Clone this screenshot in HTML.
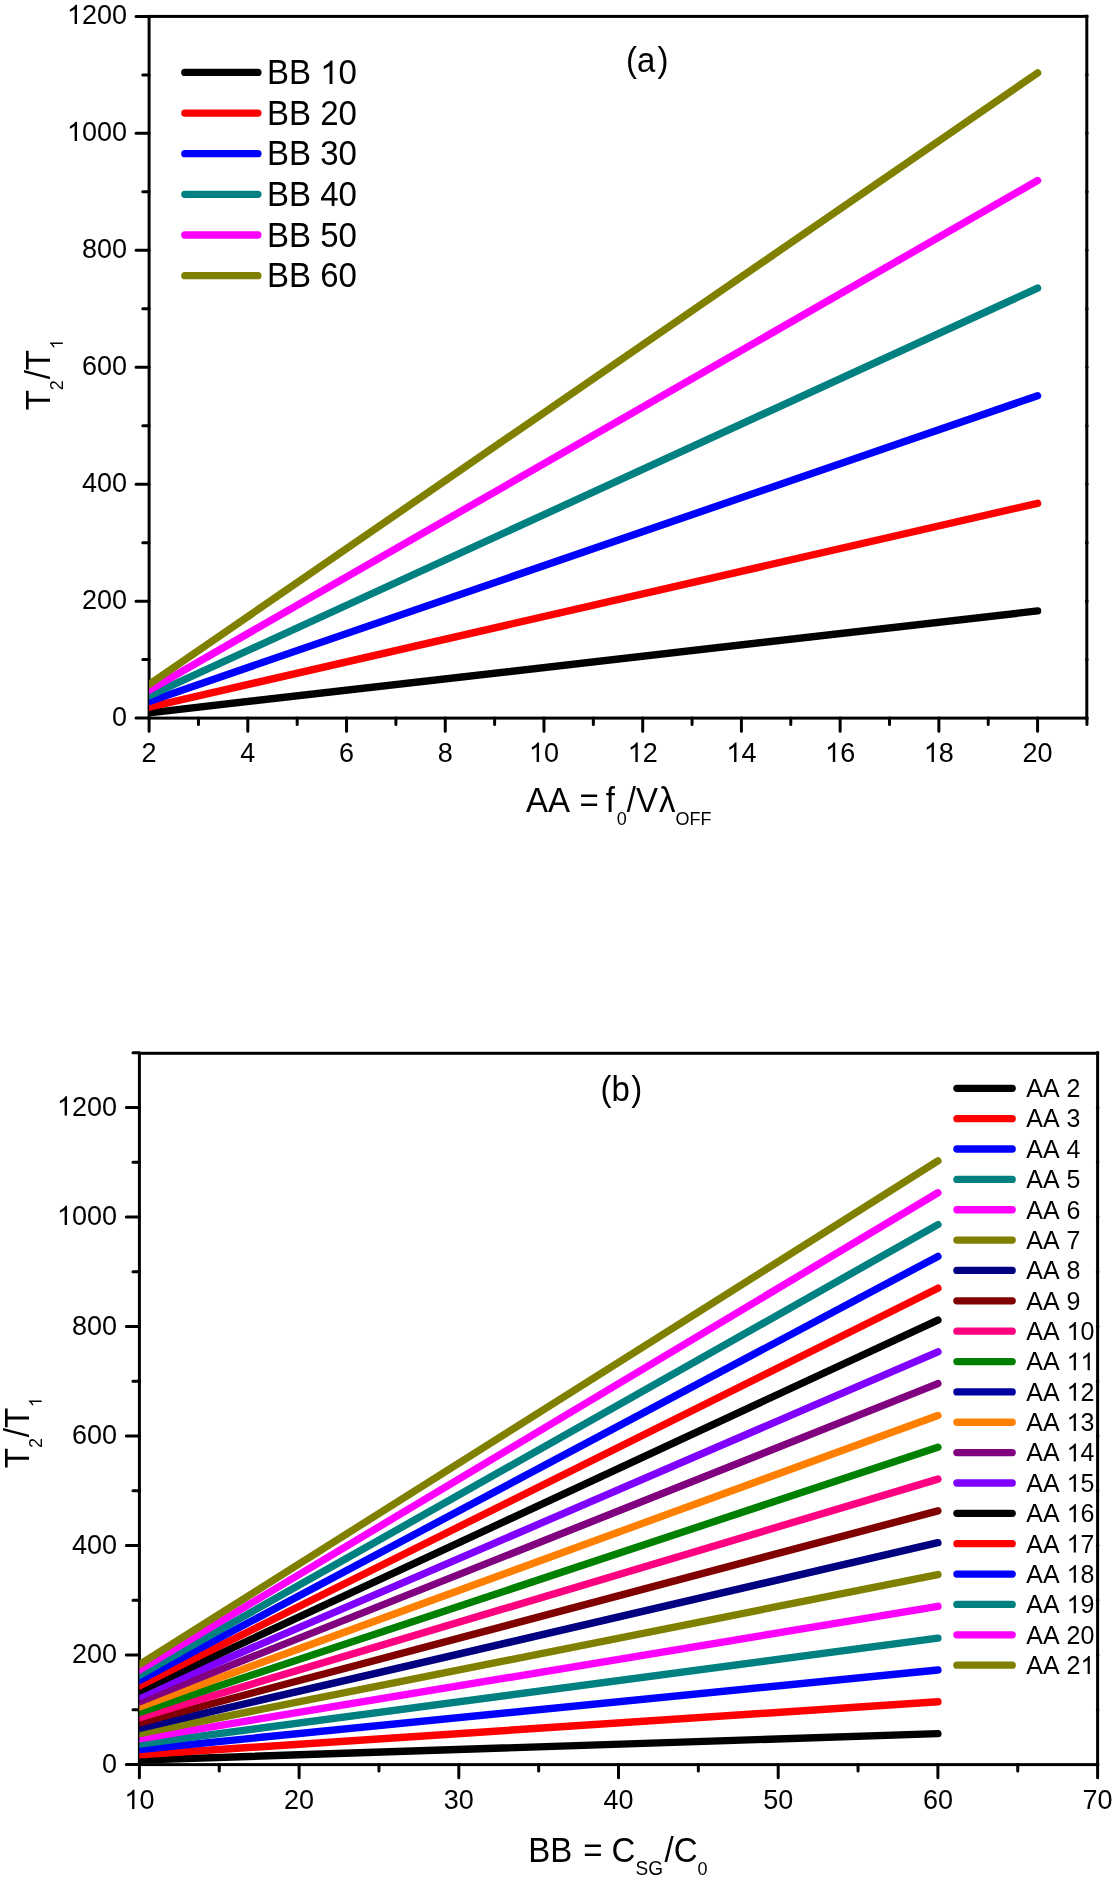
<!DOCTYPE html>
<html><head><meta charset="utf-8"><title>chart</title>
<style>
html,body{margin:0;padding:0;background:#fff;}
body{width:1115px;height:1882px;overflow:hidden;font-family:"Liberation Sans", sans-serif;}
svg{display:block;will-change:transform;}
text{font-kerning:none;}
.h{fill-opacity:0;}
</style></head><body>
<svg width="1115" height="1882" viewBox="0 0 1115 1882" font-family='"Liberation Sans", sans-serif' fill="#000">
<rect width="100%" height="100%" fill="#fff"/>
<defs>
<clipPath id="ct"><rect x="149.1" y="0" width="937.7" height="728.1"/></clipPath>
<clipPath id="cb"><rect x="139.4" y="1000" width="958.2" height="774.6"/></clipPath>
</defs>
<rect x="149.1" y="16.4" width="937.7" height="701.7" fill="none" stroke="#000" stroke-width="3"/>
<path d="M149.1 718.1v13.1 M247.82 718.1v13.1 M346.54 718.1v13.1 M445.26 718.1v13.1 M543.98 718.1v13.1 M642.7 718.1v13.1 M741.42 718.1v13.1 M840.14 718.1v13.1 M938.86 718.1v13.1 M1037.58 718.1v13.1 M198.46 718.1v6.3 M297.18 718.1v6.3 M395.9 718.1v6.3 M494.62 718.1v6.3 M593.34 718.1v6.3 M692.06 718.1v6.3 M790.78 718.1v6.3 M889.5 718.1v6.3 M988.22 718.1v6.3 M1086.94 718.1v6.3 M149.1 718.1h-13.1 M149.1 601.15h-13.1 M149.1 484.2h-13.1 M149.1 367.25h-13.1 M149.1 250.3h-13.1 M149.1 133.35h-13.1 M149.1 16.4h-13.1 M149.1 659.62h-6.3 M149.1 542.67h-6.3 M149.1 425.73h-6.3 M149.1 308.78h-6.3 M149.1 191.83h-6.3 M149.1 74.88h-6.3" stroke="#000" stroke-width="3" stroke-linecap="round" fill="none"/>
<path d="M1086.8 718.1h0.01 M1086.8 601.15h0.01 M1086.8 484.2h0.01 M1086.8 367.25h0.01 M1086.8 250.3h0.01 M1086.8 133.35h0.01 M1086.8 16.4h0.01 M1086.8 659.62h0.01 M1086.8 542.67h0.01 M1086.8 425.73h0.01 M1086.8 308.78h0.01 M1086.8 191.83h0.01 M1086.8 74.88h0.01" stroke="#000" stroke-width="3.6" stroke-linecap="round" fill="none"/>
<g transform="translate(149.1 761.9) scale(1 1.04)"><text id="t1" font-size="27" text-anchor="middle">2</text></g>
<g transform="translate(247.82 761.9) scale(1 1.04)"><text id="t2" font-size="27" text-anchor="middle">4</text></g>
<g transform="translate(346.54 761.9) scale(1 1.04)"><text id="t3" font-size="27" text-anchor="middle">6</text></g>
<g transform="translate(445.26 761.9) scale(1 1.04)"><text id="t4" font-size="27" text-anchor="middle">8</text></g>
<g transform="translate(543.98 761.9) scale(1 1.04)"><text id="t5" font-size="27" text-anchor="middle"><tspan class="h">1</tspan>0</text><path transform="matrix(0.01318 0 0 -0.01318 -15.01 0.00)" d="M763 0L583 0L583 1102Q518 1043 412 984Q306 924 221 894L221 1061Q353 1121 470 1210Q600 1310 650 1409L763 1409Z"/></g>
<g transform="translate(642.7 761.9) scale(1 1.04)"><text id="t6" font-size="27" text-anchor="middle"><tspan class="h">1</tspan>2</text><path transform="matrix(0.01318 0 0 -0.01318 -15.01 0.00)" d="M763 0L583 0L583 1102Q518 1043 412 984Q306 924 221 894L221 1061Q353 1121 470 1210Q600 1310 650 1409L763 1409Z"/></g>
<g transform="translate(741.42 761.9) scale(1 1.04)"><text id="t7" font-size="27" text-anchor="middle"><tspan class="h">1</tspan>4</text><path transform="matrix(0.01318 0 0 -0.01318 -15.01 0.00)" d="M763 0L583 0L583 1102Q518 1043 412 984Q306 924 221 894L221 1061Q353 1121 470 1210Q600 1310 650 1409L763 1409Z"/></g>
<g transform="translate(840.14 761.9) scale(1 1.04)"><text id="t8" font-size="27" text-anchor="middle"><tspan class="h">1</tspan>6</text><path transform="matrix(0.01318 0 0 -0.01318 -15.01 0.00)" d="M763 0L583 0L583 1102Q518 1043 412 984Q306 924 221 894L221 1061Q353 1121 470 1210Q600 1310 650 1409L763 1409Z"/></g>
<g transform="translate(938.86 761.9) scale(1 1.04)"><text id="t9" font-size="27" text-anchor="middle"><tspan class="h">1</tspan>8</text><path transform="matrix(0.01318 0 0 -0.01318 -15.01 0.00)" d="M763 0L583 0L583 1102Q518 1043 412 984Q306 924 221 894L221 1061Q353 1121 470 1210Q600 1310 650 1409L763 1409Z"/></g>
<g transform="translate(1037.58 761.9) scale(1 1.04)"><text id="t10" font-size="27" text-anchor="middle">20</text></g>
<g transform="translate(127 725.7) scale(1 1.04)"><text id="t11" font-size="27" text-anchor="end">0</text></g>
<g transform="translate(127 608.75) scale(1 1.04)"><text id="t12" font-size="27" text-anchor="end">200</text></g>
<g transform="translate(127 491.8) scale(1 1.04)"><text id="t13" font-size="27" text-anchor="end">400</text></g>
<g transform="translate(127 374.85) scale(1 1.04)"><text id="t14" font-size="27" text-anchor="end">600</text></g>
<g transform="translate(127 257.9) scale(1 1.04)"><text id="t15" font-size="27" text-anchor="end">800</text></g>
<g transform="translate(127 140.95) scale(1 1.04)"><text id="t16" font-size="27" text-anchor="end"><tspan class="h">1</tspan>000</text><path transform="matrix(0.01318 0 0 -0.01318 -60.04 0.00)" d="M763 0L583 0L583 1102Q518 1043 412 984Q306 924 221 894L221 1061Q353 1121 470 1210Q600 1310 650 1409L763 1409Z"/></g>
<g transform="translate(127 24) scale(1 1.04)"><text id="t17" font-size="27" text-anchor="end"><tspan class="h">1</tspan>200</text><path transform="matrix(0.01318 0 0 -0.01318 -60.04 0.00)" d="M763 0L583 0L583 1102Q518 1043 412 984Q306 924 221 894L221 1061Q353 1121 470 1210Q600 1310 650 1409L763 1409Z"/></g>
<g clip-path="url(#ct)" stroke-width="7.4" stroke-linecap="round"><line x1="149.1" y1="712.84" x2="1037.58" y2="610.91" stroke="#000000"/><line x1="149.1" y1="707.17" x2="1037.58" y2="503.32" stroke="#ff0000"/><line x1="149.1" y1="701.51" x2="1037.58" y2="395.73" stroke="#0000ff"/><line x1="149.1" y1="695.85" x2="1037.58" y2="288.13" stroke="#008080"/><line x1="149.1" y1="690.19" x2="1037.58" y2="180.54" stroke="#ff00ff"/><line x1="149.1" y1="684.52" x2="1037.58" y2="72.95" stroke="#808000"/></g>
<line x1="184.8" y1="72.4" x2="257.9" y2="72.4" stroke="#000000" stroke-width="7.3" stroke-linecap="round"/>
<g transform="translate(267 84.1) scale(1 1.04)"><text id="t18" font-size="33">BB <tspan class="h">1</tspan>0</text><path transform="matrix(0.01611 0 0 -0.01611 53.18 0.00)" d="M763 0L583 0L583 1102Q518 1043 412 984Q306 924 221 894L221 1061Q353 1121 470 1210Q600 1310 650 1409L763 1409Z"/></g>
<line x1="184.8" y1="113.05" x2="257.9" y2="113.05" stroke="#ff0000" stroke-width="7.3" stroke-linecap="round"/>
<g transform="translate(267 124.75) scale(1 1.04)"><text id="t19" font-size="33">BB 20</text></g>
<line x1="184.8" y1="153.7" x2="257.9" y2="153.7" stroke="#0000ff" stroke-width="7.3" stroke-linecap="round"/>
<g transform="translate(267 165.4) scale(1 1.04)"><text id="t20" font-size="33">BB 30</text></g>
<line x1="184.8" y1="194.35" x2="257.9" y2="194.35" stroke="#008080" stroke-width="7.3" stroke-linecap="round"/>
<g transform="translate(267 206.05) scale(1 1.04)"><text id="t21" font-size="33">BB 40</text></g>
<line x1="184.8" y1="235" x2="257.9" y2="235" stroke="#ff00ff" stroke-width="7.3" stroke-linecap="round"/>
<g transform="translate(267 246.7) scale(1 1.04)"><text id="t22" font-size="33">BB 50</text></g>
<line x1="184.8" y1="275.65" x2="257.9" y2="275.65" stroke="#808000" stroke-width="7.3" stroke-linecap="round"/>
<g transform="translate(267 287.35) scale(1 1.04)"><text id="t23" font-size="33">BB 60</text></g>
<g transform="translate(626 72.2) scale(1 1.04)"><text id="t24" font-size="33">(a<tspan dx="2.2">)</tspan></text></g>
<g transform="translate(526 812) scale(1 1.04)"><text id="t25" font-size="33">AA <tspan x="53.4">=</tspan><tspan x="79.8">f</tspan><tspan font-size="18" x="90.7" y="12.5">0</tspan><tspan x="100.8" y="0">/V</tspan><tspan x="133">λ</tspan><tspan font-size="18" x="149.4" y="12.5">OFF</tspan></text></g>
<g transform="translate(49.8 410.3) rotate(-90) scale(1 1.04)"><text id="t26" font-size="33">T<tspan font-size="18" dy="12.5">2</tspan><tspan dx="0.8" dy="-12.5">/T</tspan><tspan font-size="18" dx="0.8" dy="12.5"><tspan class="h">1</tspan></tspan></text><path transform="matrix(0.00879 0 0 -0.00879 61.10 12.50)" d="M763 0L583 0L583 1102Q518 1043 412 984Q306 924 221 894L221 1061Q353 1121 470 1210Q600 1310 650 1409L763 1409Z"/></g>
<rect x="139.4" y="1053.3" width="958.2" height="711.3" fill="none" stroke="#000" stroke-width="3"/>
<path d="M139.4 1764.6v13.1 M299.1 1764.6v13.1 M458.8 1764.6v13.1 M618.5 1764.6v13.1 M778.2 1764.6v13.1 M937.9 1764.6v13.1 M1097.6 1764.6v13.1 M219.25 1764.6v6.4 M378.95 1764.6v6.4 M538.65 1764.6v6.4 M698.35 1764.6v6.4 M858.05 1764.6v6.4 M1017.75 1764.6v6.4 M139.4 1764.6h-13.1 M139.4 1655.1h-13.1 M139.4 1545.6h-13.1 M139.4 1436.1h-13.1 M139.4 1326.6h-13.1 M139.4 1217.1h-13.1 M139.4 1107.6h-13.1 M139.4 1709.85h-6.4 M139.4 1600.35h-6.4 M139.4 1490.85h-6.4 M139.4 1381.35h-6.4 M139.4 1271.85h-6.4 M139.4 1162.35h-6.4 M139.4 1052.85h-6.4" stroke="#000" stroke-width="3" stroke-linecap="round" fill="none"/>
<path d="M1097.6 1764.6h0.01 M1097.6 1655.1h0.01 M1097.6 1545.6h0.01 M1097.6 1436.1h0.01 M1097.6 1326.6h0.01 M1097.6 1217.1h0.01 M1097.6 1107.6h0.01 M1097.6 1709.85h0.01 M1097.6 1600.35h0.01 M1097.6 1490.85h0.01 M1097.6 1381.35h0.01 M1097.6 1271.85h0.01 M1097.6 1162.35h0.01 M1097.6 1052.85h0.01" stroke="#000" stroke-width="3.6" stroke-linecap="round" fill="none"/>
<g transform="translate(139.4 1809.1) scale(1 1.04)"><text id="t27" font-size="27" text-anchor="middle"><tspan class="h">1</tspan>0</text><path transform="matrix(0.01318 0 0 -0.01318 -15.01 0.00)" d="M763 0L583 0L583 1102Q518 1043 412 984Q306 924 221 894L221 1061Q353 1121 470 1210Q600 1310 650 1409L763 1409Z"/></g>
<g transform="translate(299.1 1809.1) scale(1 1.04)"><text id="t28" font-size="27" text-anchor="middle">20</text></g>
<g transform="translate(458.8 1809.1) scale(1 1.04)"><text id="t29" font-size="27" text-anchor="middle">30</text></g>
<g transform="translate(618.5 1809.1) scale(1 1.04)"><text id="t30" font-size="27" text-anchor="middle">40</text></g>
<g transform="translate(778.2 1809.1) scale(1 1.04)"><text id="t31" font-size="27" text-anchor="middle">50</text></g>
<g transform="translate(937.9 1809.1) scale(1 1.04)"><text id="t32" font-size="27" text-anchor="middle">60</text></g>
<g transform="translate(1097.6 1809.1) scale(1 1.04)"><text id="t33" font-size="27" text-anchor="middle">70</text></g>
<g transform="translate(117 1772.6) scale(1 1.04)"><text id="t34" font-size="27" text-anchor="end">0</text></g>
<g transform="translate(117 1663.1) scale(1 1.04)"><text id="t35" font-size="27" text-anchor="end">200</text></g>
<g transform="translate(117 1553.6) scale(1 1.04)"><text id="t36" font-size="27" text-anchor="end">400</text></g>
<g transform="translate(117 1444.1) scale(1 1.04)"><text id="t37" font-size="27" text-anchor="end">600</text></g>
<g transform="translate(117 1334.6) scale(1 1.04)"><text id="t38" font-size="27" text-anchor="end">800</text></g>
<g transform="translate(117 1225.1) scale(1 1.04)"><text id="t39" font-size="27" text-anchor="end"><tspan class="h">1</tspan>000</text><path transform="matrix(0.01318 0 0 -0.01318 -60.04 0.00)" d="M763 0L583 0L583 1102Q518 1043 412 984Q306 924 221 894L221 1061Q353 1121 470 1210Q600 1310 650 1409L763 1409Z"/></g>
<g transform="translate(117 1115.6) scale(1 1.04)"><text id="t40" font-size="27" text-anchor="end"><tspan class="h">1</tspan>200</text><path transform="matrix(0.01318 0 0 -0.01318 -60.04 0.00)" d="M763 0L583 0L583 1102Q518 1043 412 984Q306 924 221 894L221 1061Q353 1121 470 1210Q600 1310 650 1409L763 1409Z"/></g>
<g clip-path="url(#cb)" stroke-width="7.4" stroke-linecap="round"><line x1="139.4" y1="1760.1" x2="937.9" y2="1733.59" stroke="#000000"/><line x1="139.4" y1="1754.8" x2="937.9" y2="1701.78" stroke="#ff0000"/><line x1="139.4" y1="1749.49" x2="937.9" y2="1669.96" stroke="#0000ff"/><line x1="139.4" y1="1744.19" x2="937.9" y2="1638.15" stroke="#008080"/><line x1="139.4" y1="1738.89" x2="937.9" y2="1606.34" stroke="#ff00ff"/><line x1="139.4" y1="1733.59" x2="937.9" y2="1574.53" stroke="#808000"/><line x1="139.4" y1="1728.29" x2="937.9" y2="1542.72" stroke="#000080"/><line x1="139.4" y1="1722.98" x2="937.9" y2="1510.9" stroke="#800000"/><line x1="139.4" y1="1717.68" x2="937.9" y2="1479.09" stroke="#ff0080"/><line x1="139.4" y1="1712.38" x2="937.9" y2="1447.28" stroke="#008000"/><line x1="139.4" y1="1707.08" x2="937.9" y2="1415.47" stroke="#ff8000"/><line x1="139.4" y1="1701.78" x2="937.9" y2="1383.66" stroke="#800080"/><line x1="139.4" y1="1696.47" x2="937.9" y2="1351.84" stroke="#8000ff"/><line x1="139.4" y1="1691.17" x2="937.9" y2="1320.03" stroke="#000000"/><line x1="139.4" y1="1685.87" x2="937.9" y2="1288.22" stroke="#ff0000"/><line x1="139.4" y1="1680.57" x2="937.9" y2="1256.41" stroke="#0000ff"/><line x1="139.4" y1="1675.27" x2="937.9" y2="1224.6" stroke="#008080"/><line x1="139.4" y1="1669.96" x2="937.9" y2="1192.79" stroke="#ff00ff"/><line x1="139.4" y1="1664.66" x2="937.9" y2="1160.97" stroke="#808000"/></g>
<line x1="956.9" y1="1088.3" x2="1012.2" y2="1088.3" stroke="#000000" stroke-width="7.3" stroke-linecap="round"/>
<g transform="translate(1026.3 1097.1) scale(1 1.04)"><text id="t41" font-size="25">AA 2</text></g>
<line x1="956.9" y1="1118.66" x2="1012.2" y2="1118.66" stroke="#ff0000" stroke-width="7.3" stroke-linecap="round"/>
<g transform="translate(1026.3 1127.46) scale(1 1.04)"><text id="t42" font-size="25">AA 3</text></g>
<line x1="956.9" y1="1149.02" x2="1012.2" y2="1149.02" stroke="#0000ff" stroke-width="7.3" stroke-linecap="round"/>
<g transform="translate(1026.3 1157.82) scale(1 1.04)"><text id="t43" font-size="25">AA 4</text></g>
<line x1="956.9" y1="1179.38" x2="1012.2" y2="1179.38" stroke="#008080" stroke-width="7.3" stroke-linecap="round"/>
<g transform="translate(1026.3 1188.18) scale(1 1.04)"><text id="t44" font-size="25">AA 5</text></g>
<line x1="956.9" y1="1209.74" x2="1012.2" y2="1209.74" stroke="#ff00ff" stroke-width="7.3" stroke-linecap="round"/>
<g transform="translate(1026.3 1218.54) scale(1 1.04)"><text id="t45" font-size="25">AA 6</text></g>
<line x1="956.9" y1="1240.1" x2="1012.2" y2="1240.1" stroke="#808000" stroke-width="7.3" stroke-linecap="round"/>
<g transform="translate(1026.3 1248.9) scale(1 1.04)"><text id="t46" font-size="25">AA 7</text></g>
<line x1="956.9" y1="1270.46" x2="1012.2" y2="1270.46" stroke="#000080" stroke-width="7.3" stroke-linecap="round"/>
<g transform="translate(1026.3 1279.26) scale(1 1.04)"><text id="t47" font-size="25">AA 8</text></g>
<line x1="956.9" y1="1300.82" x2="1012.2" y2="1300.82" stroke="#800000" stroke-width="7.3" stroke-linecap="round"/>
<g transform="translate(1026.3 1309.62) scale(1 1.04)"><text id="t48" font-size="25">AA 9</text></g>
<line x1="956.9" y1="1331.18" x2="1012.2" y2="1331.18" stroke="#ff0080" stroke-width="7.3" stroke-linecap="round"/>
<g transform="translate(1026.3 1339.98) scale(1 1.04)"><text id="t49" font-size="25">AA <tspan class="h">1</tspan>0</text><path transform="matrix(0.01221 0 0 -0.01221 40.30 0.00)" d="M763 0L583 0L583 1102Q518 1043 412 984Q306 924 221 894L221 1061Q353 1121 470 1210Q600 1310 650 1409L763 1409Z"/></g>
<line x1="956.9" y1="1361.54" x2="1012.2" y2="1361.54" stroke="#008000" stroke-width="7.3" stroke-linecap="round"/>
<g transform="translate(1026.3 1370.34) scale(1 1.04)"><text id="t50" font-size="25">AA <tspan class="h">1</tspan><tspan class="h">1</tspan></text><path transform="matrix(0.01221 0 0 -0.01221 40.30 0.00)" d="M763 0L583 0L583 1102Q518 1043 412 984Q306 924 221 894L221 1061Q353 1121 470 1210Q600 1310 650 1409L763 1409Z"/><path transform="matrix(0.01221 0 0 -0.01221 54.20 0.00)" d="M763 0L583 0L583 1102Q518 1043 412 984Q306 924 221 894L221 1061Q353 1121 470 1210Q600 1310 650 1409L763 1409Z"/></g>
<line x1="956.9" y1="1391.9" x2="1012.2" y2="1391.9" stroke="#0000a0" stroke-width="7.3" stroke-linecap="round"/>
<g transform="translate(1026.3 1400.7) scale(1 1.04)"><text id="t51" font-size="25">AA <tspan class="h">1</tspan>2</text><path transform="matrix(0.01221 0 0 -0.01221 40.30 0.00)" d="M763 0L583 0L583 1102Q518 1043 412 984Q306 924 221 894L221 1061Q353 1121 470 1210Q600 1310 650 1409L763 1409Z"/></g>
<line x1="956.9" y1="1422.26" x2="1012.2" y2="1422.26" stroke="#ff8000" stroke-width="7.3" stroke-linecap="round"/>
<g transform="translate(1026.3 1431.06) scale(1 1.04)"><text id="t52" font-size="25">AA <tspan class="h">1</tspan>3</text><path transform="matrix(0.01221 0 0 -0.01221 40.30 0.00)" d="M763 0L583 0L583 1102Q518 1043 412 984Q306 924 221 894L221 1061Q353 1121 470 1210Q600 1310 650 1409L763 1409Z"/></g>
<line x1="956.9" y1="1452.62" x2="1012.2" y2="1452.62" stroke="#800080" stroke-width="7.3" stroke-linecap="round"/>
<g transform="translate(1026.3 1461.42) scale(1 1.04)"><text id="t53" font-size="25">AA <tspan class="h">1</tspan>4</text><path transform="matrix(0.01221 0 0 -0.01221 40.30 0.00)" d="M763 0L583 0L583 1102Q518 1043 412 984Q306 924 221 894L221 1061Q353 1121 470 1210Q600 1310 650 1409L763 1409Z"/></g>
<line x1="956.9" y1="1482.98" x2="1012.2" y2="1482.98" stroke="#8000ff" stroke-width="7.3" stroke-linecap="round"/>
<g transform="translate(1026.3 1491.78) scale(1 1.04)"><text id="t54" font-size="25">AA <tspan class="h">1</tspan>5</text><path transform="matrix(0.01221 0 0 -0.01221 40.30 0.00)" d="M763 0L583 0L583 1102Q518 1043 412 984Q306 924 221 894L221 1061Q353 1121 470 1210Q600 1310 650 1409L763 1409Z"/></g>
<line x1="956.9" y1="1513.34" x2="1012.2" y2="1513.34" stroke="#000000" stroke-width="7.3" stroke-linecap="round"/>
<g transform="translate(1026.3 1522.14) scale(1 1.04)"><text id="t55" font-size="25">AA <tspan class="h">1</tspan>6</text><path transform="matrix(0.01221 0 0 -0.01221 40.30 0.00)" d="M763 0L583 0L583 1102Q518 1043 412 984Q306 924 221 894L221 1061Q353 1121 470 1210Q600 1310 650 1409L763 1409Z"/></g>
<line x1="956.9" y1="1543.7" x2="1012.2" y2="1543.7" stroke="#ff0000" stroke-width="7.3" stroke-linecap="round"/>
<g transform="translate(1026.3 1552.5) scale(1 1.04)"><text id="t56" font-size="25">AA <tspan class="h">1</tspan>7</text><path transform="matrix(0.01221 0 0 -0.01221 40.30 0.00)" d="M763 0L583 0L583 1102Q518 1043 412 984Q306 924 221 894L221 1061Q353 1121 470 1210Q600 1310 650 1409L763 1409Z"/></g>
<line x1="956.9" y1="1574.06" x2="1012.2" y2="1574.06" stroke="#0000ff" stroke-width="7.3" stroke-linecap="round"/>
<g transform="translate(1026.3 1582.86) scale(1 1.04)"><text id="t57" font-size="25">AA <tspan class="h">1</tspan>8</text><path transform="matrix(0.01221 0 0 -0.01221 40.30 0.00)" d="M763 0L583 0L583 1102Q518 1043 412 984Q306 924 221 894L221 1061Q353 1121 470 1210Q600 1310 650 1409L763 1409Z"/></g>
<line x1="956.9" y1="1604.42" x2="1012.2" y2="1604.42" stroke="#008080" stroke-width="7.3" stroke-linecap="round"/>
<g transform="translate(1026.3 1613.22) scale(1 1.04)"><text id="t58" font-size="25">AA <tspan class="h">1</tspan>9</text><path transform="matrix(0.01221 0 0 -0.01221 40.30 0.00)" d="M763 0L583 0L583 1102Q518 1043 412 984Q306 924 221 894L221 1061Q353 1121 470 1210Q600 1310 650 1409L763 1409Z"/></g>
<line x1="956.9" y1="1634.78" x2="1012.2" y2="1634.78" stroke="#ff00ff" stroke-width="7.3" stroke-linecap="round"/>
<g transform="translate(1026.3 1643.58) scale(1 1.04)"><text id="t59" font-size="25">AA 20</text></g>
<line x1="956.9" y1="1665.14" x2="1012.2" y2="1665.14" stroke="#808000" stroke-width="7.3" stroke-linecap="round"/>
<g transform="translate(1026.3 1673.94) scale(1 1.04)"><text id="t60" font-size="25">AA 2<tspan class="h">1</tspan></text><path transform="matrix(0.01221 0 0 -0.01221 54.20 0.00)" d="M763 0L583 0L583 1102Q518 1043 412 984Q306 924 221 894L221 1061Q353 1121 470 1210Q600 1310 650 1409L763 1409Z"/></g>
<g transform="translate(600.5 1101.1) scale(1 1.04)"><text id="t61" font-size="33">(b<tspan dx="1.5">)</tspan></text></g>
<g transform="translate(528 1861.6) scale(1 1.04)"><text id="t62" font-size="33"><tspan x="0.2">BB</tspan><tspan x="55.2">=</tspan><tspan x="83.6">C</tspan><tspan font-size="19" x="107.5" y="12.5">SG</tspan><tspan x="136.6" y="0">/</tspan><tspan x="145.8">C</tspan><tspan font-size="18" x="169.6" y="12.5">0</tspan></text></g>
<g transform="translate(28.7 1468.2) rotate(-90) scale(1 1.04)"><text id="t63" font-size="33">T<tspan font-size="18" dy="12.5">2</tspan><tspan dx="0.8" dy="-12.5">/T</tspan><tspan font-size="18" dx="0.8" dy="12.5"><tspan class="h">1</tspan></tspan></text><path transform="matrix(0.00879 0 0 -0.00879 61.10 12.50)" d="M763 0L583 0L583 1102Q518 1043 412 984Q306 924 221 894L221 1061Q353 1121 470 1210Q600 1310 650 1409L763 1409Z"/></g>
</svg>
</body></html>
